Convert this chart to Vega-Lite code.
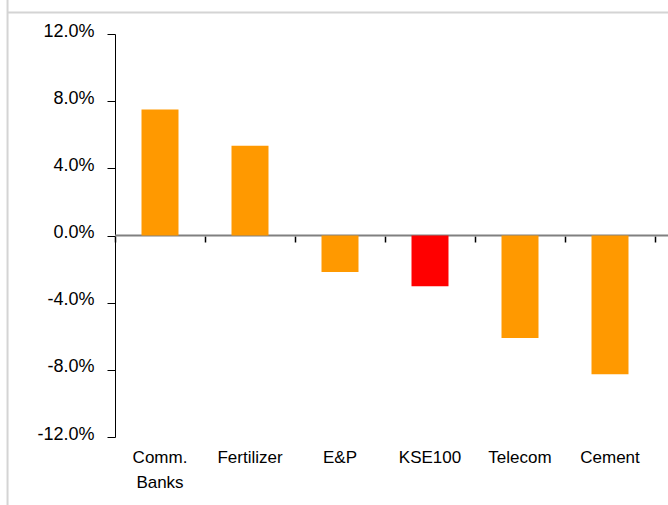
{
  "$schema": "https://vega.github.io/schema/vega-lite/v6.json",
  "width": 540,
  "height": 403,
  "autosize": "none",
  "padding": {"left": 115, "top": 34, "right": 13, "bottom": 68},
  "background": "white",
  "config": {
    "view": {"stroke": null},
    "font": "Liberation Sans",
    "axis": {"labelFont": "Liberation Sans", "labelColor": "#000000", "grid": false}
  },
  "datasets": {
    "sectors": [
      {"sector": "Comm. Banks", "change": 0.075, "group": "Sector"},
      {"sector": "Fertilizer", "change": 0.0535, "group": "Sector"},
      {"sector": "E&P", "change": -0.0218, "group": "Sector"},
      {"sector": "KSE100", "change": -0.0302, "group": "Index"},
      {"sector": "Telecom", "change": -0.0611, "group": "Sector"},
      {"sector": "Cement", "change": -0.0826, "group": "Sector"}
    ]
  },
  "layer": [
    {
      "layer": [
        {
          "data": {"values": [{}]},
          "mark": {"type": "rule", "color": "#D4D4D4", "strokeWidth": 2, "clip": false},
          "encoding": {
            "x": {"datum": -1.194, "type": "quantitative"},
            "y": {"datum": 0.1405, "type": "quantitative"},
            "y2": {"datum": -0.161}
          }
        },
        {
          "data": {"values": [{}]},
          "mark": {"type": "rule", "color": "#D4D4D4", "strokeWidth": 2, "clip": false},
          "encoding": {
            "x": {"datum": -1.194, "type": "quantitative"},
            "x2": {"datum": 6.2},
            "y": {"datum": 0.1328, "type": "quantitative"}
          }
        },
        {
          "data": {"values": [{}]},
          "mark": {"type": "rule", "color": "#808080", "strokeWidth": 2, "clip": false},
          "encoding": {
            "x": {
              "datum": 0,
              "type": "quantitative",
              "scale": {"domain": [0, 6], "nice": false, "zero": false},
              "axis": {
                "orient": "bottom",
                "offset": -201,
                "title": null,
                "values": [0, 1, 2, 3, 4, 5, 6],
                "domain": false,
                "labels": false,
                "ticks": true,
                "tickColor": "#000000",
                "tickSize": 6,
                "tickWidth": 1.5
              }
            },
            "x2": {"datum": 6.15},
            "y": {"datum": 0, "type": "quantitative"}
          }
        }
      ]
    },
    {
      "data": {"name": "sectors"},
      "mark": {"type": "bar"},
      "encoding": {
        "x": {
          "field": "sector",
          "type": "nominal",
          "sort": null,
          "scale": {"paddingInner": 0.589, "paddingOuter": 0.2945},
          "axis": {
            "orient": "bottom",
            "title": null,
            "domain": false,
            "ticks": false,
            "tickSize": 0,
            "labelAngle": 0,
            "labelFontSize": 17,
            "labelPadding": 12,
            "labelBaseline": "top",
            "labelLineHeight": 25,
            "labelExpr": "split(datum.value, ' ')"
          }
        },
        "y": {
          "field": "change",
          "type": "quantitative",
          "scale": {"domain": [-0.12, 0.12], "nice": false, "zero": false},
          "axis": {
            "title": null,
            "values": [-0.12, -0.08, -0.04, 0, 0.04, 0.08, 0.12],
            "labelExpr": "replace(format(datum.value, '.1%'), '\u2212', '-')",
            "domain": true,
            "domainColor": "#000000",
            "domainWidth": 1,
            "tickColor": "#000000",
            "tickSize": 8,
            "labelFontSize": 18,
            "labelPadding": 13,
            "labelOffset": -3
          }
        },
        "color": {
          "field": "group",
          "type": "nominal",
          "scale": {"domain": ["Sector", "Index"], "range": ["#FF9900", "#FF0000"]},
          "legend": null
        }
      }
    }
  ],
  "resolve": {"scale": {"x": "independent"}, "axis": {"x": "independent"}}
}
